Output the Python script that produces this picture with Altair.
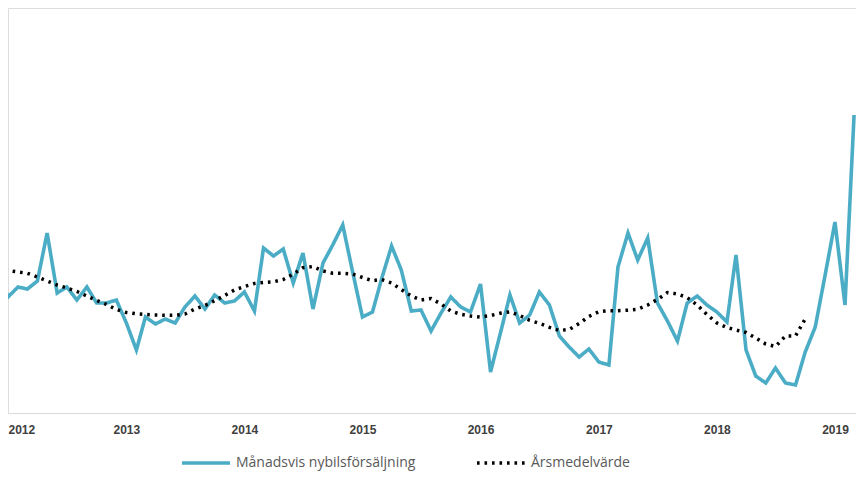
import altair as alt
import pandas as pd

# Series names
series_names = ["Månadsvis nybilsförsäljning", "Årsmedelvärde"]
series_colors = ["#4BACC6", "#000000"]

# Months: Dec 2011 .. Mar 2019
months = pd.date_range("2011-12-01", periods=88, freq="MS")

# Monthly sales (relative units)
monthly = [
    142,
    116, 126, 124, 132, 180, 120, 126, 113, 126, 110, 110, 113,   # 2012
    90, 63, 96, 89, 94, 90, 106, 117, 104, 118, 110, 112,          # 2013
    121, 102, 165, 157, 164, 130, 160, 104, 150, 168, 188, 142,    # 2014
    96, 101, 134, 167, 143, 102, 103, 82, 100, 116, 106, 101,      # 2015
    129, 41, 78, 118, 90, 98, 121, 108, 77, 66, 56, 64,            # 2016
    51, 48, 146, 180, 153, 175, 110, 92, 72, 110, 117, 108,        # 2017
    101, 91, 158, 63, 37, 30, 45, 30, 28, 61, 86, 137,             # 2018
    191, 108, 298,                                                 # 2019
]

# Rolling yearly average (ends Oct 2018)
yearly_avg = [
    145,
    142.5, 141, 139.7, 136, 132, 128, 125, 121.5, 117, 112.5, 108.5, 103.5,   # 2012
    100.5, 99.2, 98.5, 98, 97.7, 97.7, 99, 104, 107.5, 112.3, 117.5, 123,     # 2013
    126.5, 129.5, 130.5, 131.2, 133.5, 139, 145.3, 146.5, 142, 139.7, 139.7, 139,  # 2014
    135.5, 132.3, 133.5, 130, 123.5, 117, 113, 114.5, 109, 102, 98.7, 97,     # 2015
    96, 97.5, 99.7, 101.2, 97.5, 92.7, 89.7, 85.7, 82.5, 83.5, 89.5, 96.5,    # 2016
    101.3, 102.3, 102.3, 102.8, 103.7, 108, 113.5, 120.5, 119, 115.5, 108, 98.5,  # 2017
    90, 85.5, 83, 80.5, 75, 69, 66.5, 77, 77, 94,                             # 2018
]

rows = []
for d, v in zip(months, monthly):
    rows.append({"date": d, "value": v, "series": series_names[0]})
for d, v in zip(months, yearly_avg):
    rows.append({"date": d, "value": v, "series": series_names[1]})
df = pd.DataFrame(rows)

x_enc = alt.X(
    "date:T",
    scale=alt.Scale(domain=[alt.DateTime(year=2012, month=1, date=1),
                            alt.DateTime(year=2019, month=3, date=7)]),
    axis=alt.Axis(
        title=None, format="%Y", tickCount={"interval": "year", "step": 1},
        grid=False, ticks=False, domainColor="#D9D9D9", domainWidth=1.2,
        labelColor="#404040", labelFont="Liberation Sans", labelFontSize=12,
        labelFontWeight="bold", labelPadding=11, labelFlush=True,
        labelOverlap=False,
    ),
)
y_enc = alt.Y("value:Q", scale=alt.Scale(domain=[0, 405], nice=False, zero=True), axis=None)
color_enc = alt.Color(
    "series:N",
    scale=alt.Scale(domain=series_names, range=series_colors),
    legend=alt.Legend(
        title=None, orient="none", legendX=172, legendY=429, direction="horizontal",
        symbolType="stroke", symbolSize=2304, symbolStrokeWidth=3.5,
        labelFont="Open Sans", labelFontSize=14, labelColor="#595959",
        labelOffset=4, columnPadding=54, labelLimit=400,
    ),
)
dash_enc = alt.StrokeDash(
    "series:N",
    scale=alt.Scale(domain=series_names, range=[[1, 0], [2.6, 4.9]]),
    legend=alt.Legend(title=None),
)

base = alt.Chart(df).encode(x=x_enc, y=y_enc, color=color_enc, strokeDash=dash_enc)

blue = base.transform_filter(alt.datum.series == series_names[0]).mark_line(
    strokeWidth=3.6, clip=True, strokeJoin="miter")
dots = base.transform_filter(alt.datum.series == series_names[1]).mark_line(
    strokeWidth=3.5, clip=True)

chart = (
    alt.layer(blue, dots)
    .properties(
        width=848, height=405,
        autosize=alt.AutoSizeParams(type="none"),
        padding={"left": 0, "top": 0, "right": 0, "bottom": 60},
    )
    .configure_view(strokeWidth=0, strokeOpacity=0)
    .configure(background="white")
)

chart.save("out.html", embed_options={"renderer": "svg", "actions": False})
